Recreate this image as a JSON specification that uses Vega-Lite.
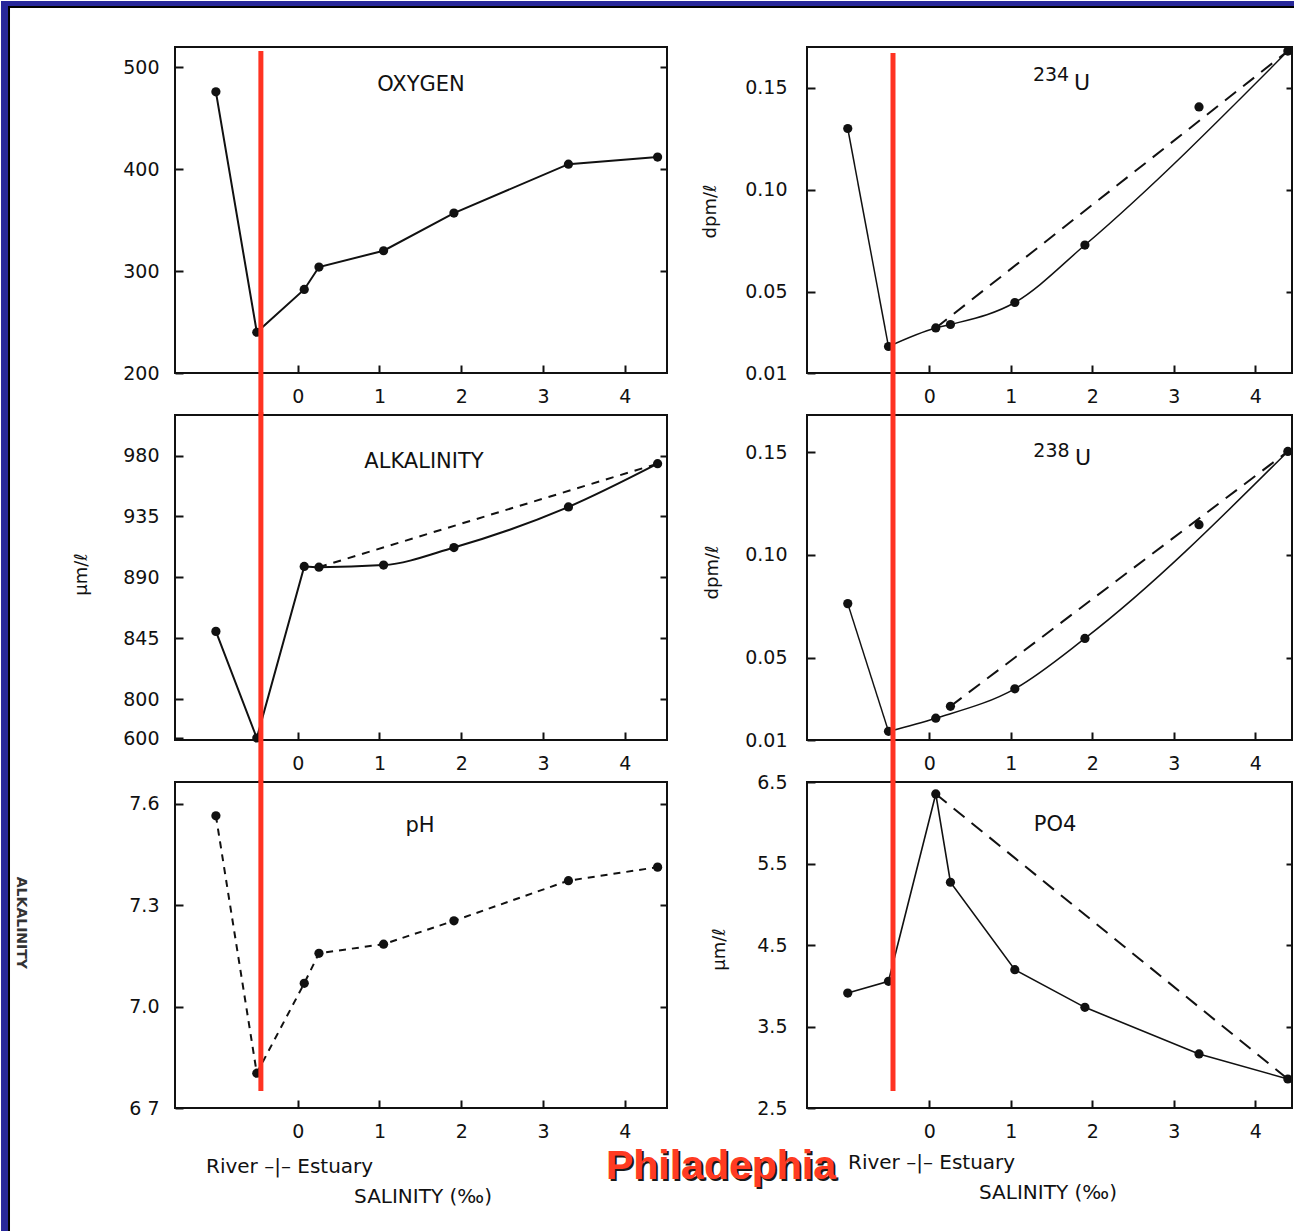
{
  "$schema": "https://vega.github.io/schema/vega-lite/v6.json",
  "background": "white",
  "padding": 0,
  "autosize": {"type": "pad"},
  "datasets": {
    "lines": [
      {"p": "O2", "g": "a", "s": -1.0, "v": 476},
      {"p": "O2", "g": "a", "s": -0.5, "v": 240},
      {"p": "O2", "g": "a", "s": 0.08, "v": 282},
      {"p": "O2", "g": "a", "s": 0.26, "v": 304},
      {"p": "O2", "g": "a", "s": 1.05, "v": 320},
      {"p": "O2", "g": "a", "s": 1.91, "v": 357},
      {"p": "O2", "g": "a", "s": 3.31, "v": 405},
      {"p": "O2", "g": "a", "s": 4.4, "v": 412},
      {"p": "ALK", "g": "a", "s": -1.0, "v": 850},
      {"p": "ALK", "g": "a", "s": -0.5, "v": 600},
      {"p": "ALK", "g": "a", "s": 0.08, "v": 898},
      {"p": "ALK", "g": "b", "s": 0.08, "v": 898},
      {"p": "ALK", "g": "b", "s": 0.26, "v": 897.5},
      {"p": "ALK", "g": "b", "s": 1.05, "v": 899},
      {"p": "ALK", "g": "b", "s": 1.91, "v": 912},
      {"p": "ALK", "g": "b", "s": 3.31, "v": 942},
      {"p": "ALK", "g": "b", "s": 4.4, "v": 974},
      {"p": "ALK", "g": "m", "s": 0.26, "v": 897.5},
      {"p": "ALK", "g": "m", "s": 4.4, "v": 974},
      {"p": "PH", "g": "m", "s": -1.0, "v": 7.565},
      {"p": "PH", "g": "m", "s": -0.5, "v": 6.803},
      {"p": "PH", "g": "m", "s": 0.08, "v": 7.069},
      {"p": "PH", "g": "m", "s": 0.26, "v": 7.158},
      {"p": "PH", "g": "m", "s": 1.05, "v": 7.185},
      {"p": "PH", "g": "m", "s": 1.91, "v": 7.254},
      {"p": "PH", "g": "m", "s": 3.31, "v": 7.373},
      {"p": "PH", "g": "m", "s": 4.4, "v": 7.413},
      {"p": "U234", "g": "a", "s": -1.0, "v": 0.130},
      {"p": "U234", "g": "a", "s": -0.5, "v": 0.023},
      {"p": "U234", "g": "b", "s": -0.5, "v": 0.023},
      {"p": "U234", "g": "b", "s": 0.08, "v": 0.0321},
      {"p": "U234", "g": "b", "s": 0.26, "v": 0.0338},
      {"p": "U234", "g": "b", "s": 1.05, "v": 0.0446},
      {"p": "U234", "g": "b", "s": 1.91, "v": 0.0728},
      {"p": "U234", "g": "b", "s": 4.4, "v": 0.168},
      {"p": "U234", "g": "m", "s": 0.08, "v": 0.0321},
      {"p": "U234", "g": "m", "s": 4.4, "v": 0.168},
      {"p": "U238", "g": "a", "s": -1.0, "v": 0.0763},
      {"p": "U238", "g": "a", "s": -0.5, "v": 0.0142},
      {"p": "U238", "g": "b", "s": -0.5, "v": 0.0142},
      {"p": "U238", "g": "b", "s": 0.08, "v": 0.0206},
      {"p": "U238", "g": "b", "s": 1.05, "v": 0.0349},
      {"p": "U238", "g": "b", "s": 1.91, "v": 0.0594},
      {"p": "U238", "g": "b", "s": 4.4, "v": 0.1503},
      {"p": "U238", "g": "m", "s": 0.26, "v": 0.0264},
      {"p": "U238", "g": "m", "s": 4.4, "v": 0.1503},
      {"p": "PO4", "g": "a", "s": -1.0, "v": 3.91},
      {"p": "PO4", "g": "a", "s": -0.5, "v": 4.055},
      {"p": "PO4", "g": "a", "s": 0.08, "v": 6.353},
      {"p": "PO4", "g": "a", "s": 0.26, "v": 5.27},
      {"p": "PO4", "g": "a", "s": 1.05, "v": 4.197},
      {"p": "PO4", "g": "a", "s": 1.91, "v": 3.735},
      {"p": "PO4", "g": "a", "s": 3.31, "v": 3.163},
      {"p": "PO4", "g": "a", "s": 4.4, "v": 2.856},
      {"p": "PO4", "g": "m", "s": 0.08, "v": 6.353},
      {"p": "PO4", "g": "m", "s": 4.4, "v": 2.856}
    ],
    "pts": [
      {"p": "O2", "s": -1.0, "v": 476}, {"p": "O2", "s": -0.5, "v": 240}, {"p": "O2", "s": 0.08, "v": 282}, {"p": "O2", "s": 0.26, "v": 304},
      {"p": "O2", "s": 1.05, "v": 320}, {"p": "O2", "s": 1.91, "v": 357}, {"p": "O2", "s": 3.31, "v": 405}, {"p": "O2", "s": 4.4, "v": 412},
      {"p": "ALK", "s": -1.0, "v": 850}, {"p": "ALK", "s": -0.5, "v": 600}, {"p": "ALK", "s": 0.08, "v": 898}, {"p": "ALK", "s": 0.26, "v": 897.5},
      {"p": "ALK", "s": 1.05, "v": 899}, {"p": "ALK", "s": 1.91, "v": 912}, {"p": "ALK", "s": 3.31, "v": 942}, {"p": "ALK", "s": 4.4, "v": 974},
      {"p": "PH", "s": -1.0, "v": 7.565}, {"p": "PH", "s": -0.5, "v": 6.803}, {"p": "PH", "s": 0.08, "v": 7.069}, {"p": "PH", "s": 0.26, "v": 7.158},
      {"p": "PH", "s": 1.05, "v": 7.185}, {"p": "PH", "s": 1.91, "v": 7.254}, {"p": "PH", "s": 3.31, "v": 7.373}, {"p": "PH", "s": 4.4, "v": 7.413},
      {"p": "U234", "s": -1.0, "v": 0.130}, {"p": "U234", "s": -0.5, "v": 0.023}, {"p": "U234", "s": 0.08, "v": 0.0321}, {"p": "U234", "s": 0.26, "v": 0.0338},
      {"p": "U234", "s": 1.05, "v": 0.0446}, {"p": "U234", "s": 1.91, "v": 0.0728}, {"p": "U234", "s": 3.31, "v": 0.1406}, {"p": "U234", "s": 4.4, "v": 0.168},
      {"p": "U238", "s": -1.0, "v": 0.0763}, {"p": "U238", "s": -0.5, "v": 0.0142}, {"p": "U238", "s": 0.08, "v": 0.0206}, {"p": "U238", "s": 0.26, "v": 0.0264},
      {"p": "U238", "s": 1.05, "v": 0.0349}, {"p": "U238", "s": 1.91, "v": 0.0594}, {"p": "U238", "s": 3.31, "v": 0.1147}, {"p": "U238", "s": 4.4, "v": 0.1503},
      {"p": "PO4", "s": -1.0, "v": 3.91}, {"p": "PO4", "s": -0.5, "v": 4.055}, {"p": "PO4", "s": 0.08, "v": 6.353}, {"p": "PO4", "s": 0.26, "v": 5.27},
      {"p": "PO4", "s": 1.05, "v": 4.197}, {"p": "PO4", "s": 1.91, "v": 3.735}, {"p": "PO4", "s": 3.31, "v": 3.163}, {"p": "PO4", "s": 4.4, "v": 2.856}
    ]
  },
  "columns": 2,
  "spacing": {"row": 42, "column": 140},
  "bounds": "flush",
  "concat": [
    {
      "width": 492, "height": 326,
      "resolve": {"axis": {"x": "independent", "y": "independent"}},
      "layer": [
        {"data": {"values": [{}]}, "mark": {"type": "rect", "color": "#28289a", "clip": false},
         "encoding": {"x": {"datum": -3.6271, "type": "quantitative", "axis": null}, "x2": {"datum": -3.5416},
                      "y": {"datum": 565.15, "type": "quantitative", "axis": null}, "y2": {"datum": -643.19}}},
        {"data": {"values": [{}]}, "mark": {"type": "rect", "color": "#28289a", "clip": false},
         "encoding": {"x": {"datum": -3.6271, "type": "quantitative", "axis": null}, "x2": {"datum": 12.192},
                      "y": {"datum": 565.15, "type": "quantitative", "axis": null}, "y2": {"datum": 560.25}}},
        {"data": {"values": [{}]}, "mark": {"type": "rect", "color": "#000000", "clip": false},
         "encoding": {"x": {"datum": -3.5416, "type": "quantitative", "axis": null}, "x2": {"datum": -3.5171},
                      "y": {"datum": 560.25, "type": "quantitative", "axis": null}, "y2": {"datum": -643.19}}},
        {"data": {"values": [{}]}, "mark": {"type": "rect", "color": "#000000", "clip": false},
         "encoding": {"x": {"datum": -3.5416, "type": "quantitative", "axis": null}, "x2": {"datum": 12.192},
                      "y": {"datum": 560.25, "type": "quantitative", "axis": null}, "y2": {"datum": 558.28}}},
        {"data": {"name": "lines"}, "transform": [{"filter": "datum.p == 'O2' && datum.g == 'a'"}],
         "mark": {"type": "line", "color": "#111", "strokeWidth": 2},
         "encoding": {
           "x": {"field": "s", "type": "quantitative", "scale": {"domain": [-1.5, 4.515], "nice": false, "zero": false}, "axis": {"orient": "bottom", "values": [0, 1, 2, 3, 4], "title": null, "format": "d", "labelPadding": 22}},
           "y": {"field": "v", "type": "quantitative", "scale": {"domain": [200, 520], "nice": false, "zero": false}, "axis": {"values": [200, 300, 400, 500], "title": null, "labelPadding": 24}}}},
        {"data": {"name": "pts"}, "transform": [{"filter": "datum.p == 'O2'"}],
         "mark": {"type": "circle", "size": 85, "color": "#111", "opacity": 1},
         "encoding": {
           "x": {"field": "s", "type": "quantitative", "axis": null},
           "y": {"field": "v", "type": "quantitative", "axis": {"orient": "right", "labels": false, "values": [300, 400, 500], "title": null, "tickSize": -7}}}},
        {"data": {"values": [{}]}, "mark": {"type": "text", "text": "OXYGEN", "fontSize": 21, "align": "center", "baseline": "middle"},
         "encoding": {"x": {"datum": 1.507, "type": "quantitative", "axis": null}, "y": {"datum": 482.7, "type": "quantitative", "axis": null}}},
        {"data": {"values": [{}]}, "mark": {"type": "rule", "color": "#ff3322", "strokeWidth": 5, "clip": false},
         "encoding": {"x": {"datum": -0.45, "type": "quantitative", "axis": null}, "y": {"datum": 516.07, "type": "quantitative", "axis": null}, "y2": {"datum": 158.8}}}
      ]
    },
    {
      "width": 485, "height": 326,
      "resolve": {"axis": {"x": "independent", "y": "independent"}},
      "layer": [
        {"data": {"name": "lines"}, "transform": [{"filter": "datum.p == 'U234' && datum.g == 'a'"}],
         "mark": {"type": "line", "color": "#111", "strokeWidth": 1.5},
         "encoding": {
           "x": {"field": "s", "type": "quantitative", "scale": {"domain": [-1.5, 4.451], "nice": false, "zero": false}, "axis": {"orient": "bottom", "values": [0, 1, 2, 3, 4], "title": null, "format": "d", "labelPadding": 22}},
           "y": {"field": "v", "type": "quantitative", "scale": {"domain": [0.01, 0.17], "nice": false, "zero": false},
                 "axis": {"values": [0.01, 0.05, 0.10, 0.15], "format": ".2f", "title": "dpm/ℓ", "labelPadding": 28, "titleX": -97, "titleY": 164, "titleAngle": 270, "titleAlign": "center", "titleBaseline": "middle"}}}},
        {"data": {"name": "lines"}, "transform": [{"filter": "datum.p == 'U234' && datum.g == 'b'"}],
         "mark": {"type": "line", "color": "#111", "strokeWidth": 1.5, "interpolate": "monotone"},
         "encoding": {"x": {"field": "s", "type": "quantitative", "axis": null}, "y": {"field": "v", "type": "quantitative", "axis": null}}},
        {"data": {"name": "lines"}, "transform": [{"filter": "datum.p == 'U234' && datum.g == 'm'"}],
         "mark": {"type": "line", "color": "#111", "strokeWidth": 2, "strokeDash": [14, 9]},
         "encoding": {"x": {"field": "s", "type": "quantitative", "axis": null}, "y": {"field": "v", "type": "quantitative", "axis": null}}},
        {"data": {"name": "pts"}, "transform": [{"filter": "datum.p == 'U234'"}],
         "mark": {"type": "circle", "size": 85, "color": "#111", "opacity": 1},
         "encoding": {
           "x": {"field": "s", "type": "quantitative", "axis": null},
           "y": {"field": "v", "type": "quantitative", "axis": {"orient": "right", "labels": false, "values": [0.05, 0.10, 0.15], "title": null, "tickSize": -6}}}},
        {"data": {"values": [{}]}, "mark": {"type": "text", "text": "234", "fontSize": 19, "align": "center", "baseline": "middle"},
         "encoding": {"x": {"datum": 1.494, "type": "quantitative", "axis": null}, "y": {"datum": 0.1563, "type": "quantitative", "axis": null}}},
        {"data": {"values": [{}]}, "mark": {"type": "text", "text": "U", "fontSize": 22, "align": "center", "baseline": "middle"},
         "encoding": {"x": {"datum": 1.874, "type": "quantitative", "axis": null}, "y": {"datum": 0.1523, "type": "quantitative", "axis": null}}},
        {"data": {"values": [{}]}, "mark": {"type": "rule", "color": "#ff3322", "strokeWidth": 5, "clip": false},
         "encoding": {"x": {"datum": -0.4448, "type": "quantitative", "axis": null}, "y": {"datum": 0.1671, "type": "quantitative", "axis": null}, "y2": {"datum": -0.0106}}}
      ]
    },
    {
      "width": 492, "height": 325,
      "resolve": {"axis": {"x": "independent", "y": "independent"}},
      "layer": [
        {"data": {"name": "lines"}, "transform": [{"filter": "datum.p == 'ALK' && datum.g == 'a'"}],
         "mark": {"type": "line", "color": "#111", "strokeWidth": 2},
         "encoding": {
           "x": {"field": "s", "type": "quantitative", "scale": {"domain": [-1.5, 4.515], "nice": false, "zero": false}, "axis": {"orient": "bottom", "values": [0, 1, 2, 3, 4], "title": null, "format": "d", "labelPadding": 22}},
           "y": {"field": "v", "type": "quantitative", "scale": {"domain": [600, 800, 1010], "range": [323, 284, 0], "nice": false, "zero": false},
                 "axis": {"values": [600, 800, 845, 890, 935, 980], "title": "μm/ℓ", "labelPadding": 24, "titleX": -94, "titleY": 159, "titleAngle": 270, "titleAlign": "center", "titleBaseline": "middle"}}}},
        {"data": {"name": "lines"}, "transform": [{"filter": "datum.p == 'ALK' && datum.g == 'b'"}],
         "mark": {"type": "line", "color": "#111", "strokeWidth": 2, "interpolate": "monotone"},
         "encoding": {"x": {"field": "s", "type": "quantitative", "axis": null}, "y": {"field": "v", "type": "quantitative", "axis": null}}},
        {"data": {"name": "lines"}, "transform": [{"filter": "datum.p == 'ALK' && datum.g == 'm'"}],
         "mark": {"type": "line", "color": "#111", "strokeWidth": 2, "strokeDash": [8, 7]},
         "encoding": {"x": {"field": "s", "type": "quantitative", "axis": null}, "y": {"field": "v", "type": "quantitative", "axis": null}}},
        {"data": {"name": "pts"}, "transform": [{"filter": "datum.p == 'ALK'"}],
         "mark": {"type": "circle", "size": 85, "color": "#111", "opacity": 1},
         "encoding": {
           "x": {"field": "s", "type": "quantitative", "axis": null},
           "y": {"field": "v", "type": "quantitative", "axis": {"orient": "right", "labels": false, "values": [800, 845, 890, 935, 980], "title": null, "tickSize": -7}}}},
        {"data": {"values": [{}]}, "mark": {"type": "text", "text": "ALKALINITY", "fontSize": 21, "align": "center", "baseline": "middle"},
         "encoding": {"x": {"datum": 1.544, "type": "quantitative", "axis": null}, "y": {"datum": 975.2, "type": "quantitative", "axis": null}}},
        {"data": {"values": [{}]}, "mark": {"type": "rule", "color": "#ff3322", "strokeWidth": 5, "clip": false},
         "encoding": {"x": {"datum": -0.45, "type": "quantitative", "axis": null}, "y": {"datum": 1012, "type": "quantitative", "axis": null}, "y2": {"datum": 374}}}
      ]
    },
    {
      "width": 485, "height": 325,
      "resolve": {"axis": {"x": "independent", "y": "independent"}},
      "layer": [
        {"data": {"name": "lines"}, "transform": [{"filter": "datum.p == 'U238' && datum.g == 'a'"}],
         "mark": {"type": "line", "color": "#111", "strokeWidth": 1.5},
         "encoding": {
           "x": {"field": "s", "type": "quantitative", "scale": {"domain": [-1.5, 4.451], "nice": false, "zero": false}, "axis": {"orient": "bottom", "values": [0, 1, 2, 3, 4], "title": null, "format": "d", "labelPadding": 22}},
           "y": {"field": "v", "type": "quantitative", "scale": {"domain": [0.01, 0.168], "nice": false, "zero": false},
                 "axis": {"values": [0.01, 0.05, 0.10, 0.15], "format": ".2f", "title": "dpm/ℓ", "labelPadding": 28, "titleX": -95, "titleY": 157, "titleAngle": 270, "titleAlign": "center", "titleBaseline": "middle"}}}},
        {"data": {"name": "lines"}, "transform": [{"filter": "datum.p == 'U238' && datum.g == 'b'"}],
         "mark": {"type": "line", "color": "#111", "strokeWidth": 1.5, "interpolate": "monotone"},
         "encoding": {"x": {"field": "s", "type": "quantitative", "axis": null}, "y": {"field": "v", "type": "quantitative", "axis": null}}},
        {"data": {"name": "lines"}, "transform": [{"filter": "datum.p == 'U238' && datum.g == 'm'"}],
         "mark": {"type": "line", "color": "#111", "strokeWidth": 2, "strokeDash": [14, 9]},
         "encoding": {"x": {"field": "s", "type": "quantitative", "axis": null}, "y": {"field": "v", "type": "quantitative", "axis": null}}},
        {"data": {"name": "pts"}, "transform": [{"filter": "datum.p == 'U238'"}],
         "mark": {"type": "circle", "size": 85, "color": "#111", "opacity": 1},
         "encoding": {
           "x": {"field": "s", "type": "quantitative", "axis": null},
           "y": {"field": "v", "type": "quantitative", "axis": {"orient": "right", "labels": false, "values": [0.05, 0.10, 0.15], "title": null, "tickSize": -6}}}},
        {"data": {"values": [{}]}, "mark": {"type": "text", "text": "238", "fontSize": 19, "align": "center", "baseline": "middle"},
         "encoding": {"x": {"datum": 1.50, "type": "quantitative", "axis": null}, "y": {"datum": 0.1504, "type": "quantitative", "axis": null}}},
        {"data": {"values": [{}]}, "mark": {"type": "text", "text": "U", "fontSize": 22, "align": "center", "baseline": "middle"},
         "encoding": {"x": {"datum": 1.887, "type": "quantitative", "axis": null}, "y": {"datum": 0.147, "type": "quantitative", "axis": null}}},
        {"data": {"values": [{}]}, "mark": {"type": "rule", "color": "#ff3322", "strokeWidth": 5, "clip": false},
         "encoding": {"x": {"datum": -0.4448, "type": "quantitative", "axis": null}, "y": {"datum": 0.1685, "type": "quantitative", "axis": null}, "y2": {"datum": -0.0104}}}
      ]
    },
    {
      "width": 492, "height": 326,
      "resolve": {"axis": {"x": "independent", "y": "independent"}},
      "layer": [
        {"data": {"name": "lines"}, "transform": [{"filter": "datum.p == 'PH'"}],
         "mark": {"type": "line", "color": "#111", "strokeWidth": 2, "strokeDash": [7, 6]},
         "encoding": {
           "x": {"field": "s", "type": "quantitative", "scale": {"domain": [-1.5, 4.515], "nice": false, "zero": false}, "axis": {"orient": "bottom", "values": [0, 1, 2, 3, 4], "title": null, "format": "d", "labelPadding": 22}},
           "y": {"field": "v", "type": "quantitative", "scale": {"domain": [6.7, 7.665], "nice": false, "zero": false},
                 "axis": {"values": [6.7, 7.0, 7.3, 7.6], "title": null, "labelPadding": 24, "labelExpr": "datum.value < 6.75 ? '6 7' : format(datum.value, '.1f')"}}}},
        {"data": {"name": "pts"}, "transform": [{"filter": "datum.p == 'PH'"}],
         "mark": {"type": "circle", "size": 85, "color": "#111", "opacity": 1},
         "encoding": {
           "x": {"field": "s", "type": "quantitative", "axis": null},
           "y": {"field": "v", "type": "quantitative", "axis": {"orient": "right", "labels": false, "values": [7.0, 7.3, 7.6], "title": null, "tickSize": -7}}}},
        {"data": {"values": [{}]}, "mark": {"type": "text", "text": "pH", "fontSize": 21, "align": "center", "baseline": "middle"},
         "encoding": {"x": {"datum": 1.495, "type": "quantitative", "axis": null}, "y": {"datum": 7.535, "type": "quantitative", "axis": null}}},
        {"data": {"values": [{}]}, "mark": {"type": "text", "text": "River –|– Estuary", "fontSize": 20, "align": "left", "baseline": "middle"},
         "encoding": {"x": {"datum": -1.121, "type": "quantitative", "axis": null}, "y": {"datum": 6.525, "type": "quantitative", "axis": null}}},
        {"data": {"values": [{}]}, "mark": {"type": "text", "text": "SALINITY (‰)", "fontSize": 20, "align": "center", "baseline": "middle"},
         "encoding": {"x": {"datum": 1.532, "type": "quantitative", "axis": null}, "y": {"datum": 6.437, "type": "quantitative", "axis": null}}},
        {"data": {"values": [{}]}, "mark": {"type": "text", "text": "ALKALINITY", "fontSize": 14, "fontWeight": "bold", "angle": 90, "align": "center", "baseline": "middle", "color": "#333"},
         "encoding": {"x": {"datum": -3.383, "type": "quantitative", "axis": null}, "y": {"datum": 7.248, "type": "quantitative", "axis": null}}},
        {"data": {"values": [{}]}, "mark": {"type": "text", "text": "Philadephia", "font": "Liberation Sans", "fontSize": 41, "fontWeight": "bold", "align": "center", "baseline": "middle", "color": "#1a1a1a"},
         "encoding": {"x": {"datum": 5.2, "type": "quantitative", "axis": null}, "y": {"datum": 6.519, "type": "quantitative", "axis": null}}},
        {"data": {"values": [{}]}, "mark": {"type": "text", "text": "Philadephia", "font": "Liberation Sans", "fontSize": 41, "fontWeight": "bold", "align": "center", "baseline": "middle", "color": "#ff3b22"},
         "encoding": {"x": {"datum": 5.175, "type": "quantitative", "axis": null}, "y": {"datum": 6.525, "type": "quantitative", "axis": null}}},
        {"data": {"values": [{}]}, "mark": {"type": "rule", "color": "#ff3322", "strokeWidth": 5, "clip": false},
         "encoding": {"x": {"datum": -0.45, "type": "quantitative", "axis": null}, "y": {"datum": 7.67, "type": "quantitative", "axis": null}, "y2": {"datum": 6.75}}}
      ]
    },
    {
      "width": 485, "height": 326,
      "resolve": {"axis": {"x": "independent", "y": "independent"}},
      "layer": [
        {"data": {"name": "lines"}, "transform": [{"filter": "datum.p == 'PO4' && datum.g == 'a'"}],
         "mark": {"type": "line", "color": "#111", "strokeWidth": 1.6},
         "encoding": {
           "x": {"field": "s", "type": "quantitative", "scale": {"domain": [-1.5, 4.451], "nice": false, "zero": false}, "axis": {"orient": "bottom", "values": [0, 1, 2, 3, 4], "title": null, "format": "d", "labelPadding": 22}},
           "y": {"field": "v", "type": "quantitative", "scale": {"domain": [2.5, 6.5], "nice": false, "zero": false},
                 "axis": {"values": [2.5, 3.5, 4.5, 5.5, 6.5], "format": ".1f", "title": "μm/ℓ", "labelPadding": 28, "titleX": -88, "titleY": 167, "titleAngle": 270, "titleAlign": "center", "titleBaseline": "middle"}}}},
        {"data": {"name": "lines"}, "transform": [{"filter": "datum.p == 'PO4' && datum.g == 'm'"}],
         "mark": {"type": "line", "color": "#111", "strokeWidth": 2, "strokeDash": [14, 9]},
         "encoding": {"x": {"field": "s", "type": "quantitative", "axis": null}, "y": {"field": "v", "type": "quantitative", "axis": null}}},
        {"data": {"name": "pts"}, "transform": [{"filter": "datum.p == 'PO4'"}],
         "mark": {"type": "circle", "size": 85, "color": "#111", "opacity": 1},
         "encoding": {
           "x": {"field": "s", "type": "quantitative", "axis": null},
           "y": {"field": "v", "type": "quantitative", "axis": {"orient": "right", "labels": false, "values": [3.5, 4.5, 5.5], "title": null, "tickSize": -6}}}},
        {"data": {"values": [{}]}, "mark": {"type": "text", "text": "PO4", "fontSize": 21, "align": "center", "baseline": "middle"},
         "encoding": {"x": {"datum": 1.543, "type": "quantitative", "axis": null}, "y": {"datum": 5.972, "type": "quantitative", "axis": null}}},
        {"data": {"values": [{}]}, "mark": {"type": "text", "text": "River –|– Estuary", "fontSize": 20, "align": "left", "baseline": "middle"},
         "encoding": {"x": {"datum": -0.997, "type": "quantitative", "axis": null}, "y": {"datum": 1.825, "type": "quantitative", "axis": null}}},
        {"data": {"values": [{}]}, "mark": {"type": "text", "text": "SALINITY (‰)", "fontSize": 20, "align": "center", "baseline": "middle"},
         "encoding": {"x": {"datum": 1.457, "type": "quantitative", "axis": null}, "y": {"datum": 1.457, "type": "quantitative", "axis": null}}},
        {"data": {"values": [{}]}, "mark": {"type": "rule", "color": "#ff3322", "strokeWidth": 5, "clip": false},
         "encoding": {"x": {"datum": -0.4448, "type": "quantitative", "axis": null}, "y": {"datum": 6.52, "type": "quantitative", "axis": null}, "y2": {"datum": 2.709}}}
      ]
    }
  ],
  "config": {
    "view": {"stroke": "#111", "strokeWidth": 2},
    "font": "DejaVu Sans",
    "axis": {"grid": false, "domain": false, "tickSize": -8, "tickWidth": 2, "tickColor": "#111",
             "labelFont": "DejaVu Sans", "labelFontSize": 19, "labelColor": "#111", "labelFlush": false, "labelOverlap": false,
             "titleFont": "DejaVu Sans", "titleFontSize": 18, "titleColor": "#111", "titleFontWeight": "normal"},
    "text": {"font": "DejaVu Sans", "color": "#111"}
  }
}
